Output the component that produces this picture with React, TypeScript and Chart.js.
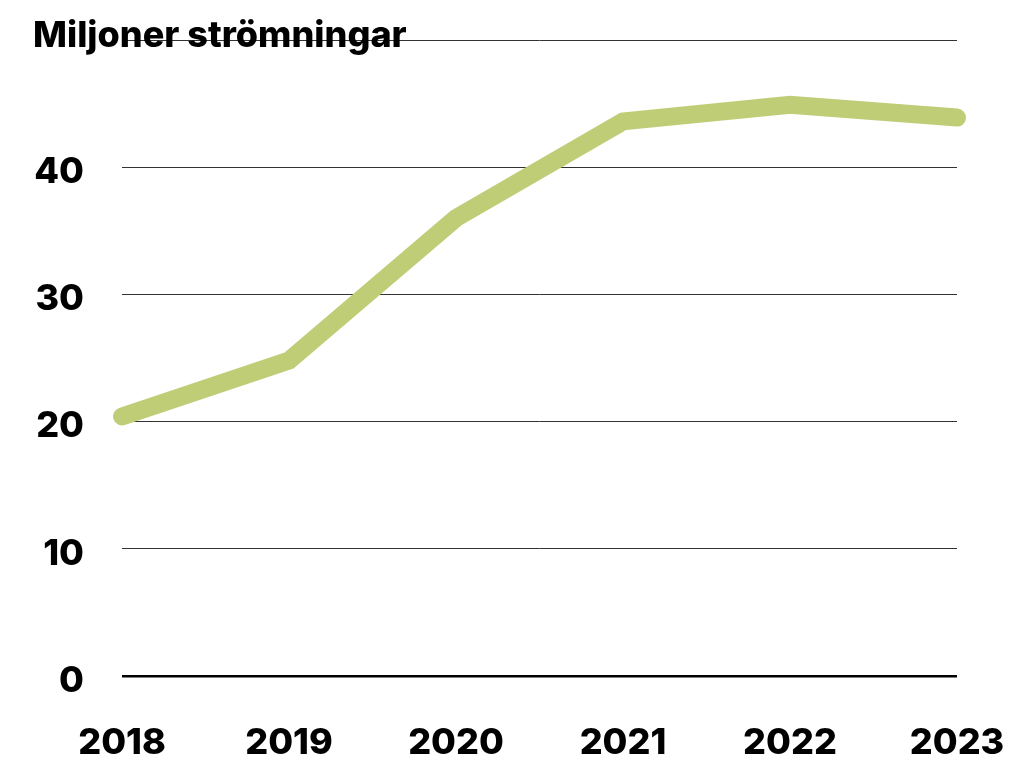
import React, { useEffect, useRef } from "react";
import { Chart, registerables } from "chart.js";

Chart.register(...registerables);

const years = ["2018", "2019", "2020", "2021", "2022", "2023"];
const streams = [20.4, 24.8, 36.0, 43.6, 44.9, 43.9];
const yTicks = [0, 10, 20, 30, 40, 50];
const titleText = "Miljoner strömningar";

const FONT = "Inter, 'Noto Sans', sans-serif";
const FS = 36;
const FW = "800";

export default function App() {
  const ref = useRef<HTMLCanvasElement | null>(null);

  useEffect(() => {
    document.body.style.margin = "0";
    const canvas = ref.current;
    if (!canvas) return;

    const titlePlugin = {
      id: "titleText",
      afterDraw(chart: any) {
        const ctx = chart.ctx;
        ctx.save();
        ctx.font = `${FW} ${FS}px ${FONT}`;
        ctx.fillStyle = "#000";
        ctx.textBaseline = "alphabetic";
        ctx.textAlign = "left";
        ctx.fillText(titleText, 33, 47);
        ctx.restore();
      },
    };

    const chart = new Chart(canvas, {
      type: "line",
      data: {
        labels: years,
        datasets: [
          {
            data: streams,
            borderColor: "#bfcd77",
            borderWidth: 18,
            borderCapStyle: "round",
            borderJoinStyle: "miter",
            pointRadius: 0,
            tension: 0,
            fill: false,
            clip: 30,
          },
        ],
      },
      options: {
        animation: false,
        responsive: false,
        layout: { padding: { left: 33, right: 52, top: 40, bottom: 0 } },
        plugins: { legend: { display: false }, title: { display: false }, tooltip: { enabled: false } },
        scales: {
          x: {
            grid: { display: false },
            border: { display: false },
            afterFit: (axis: any) => {
              axis.height = 82;
              axis.paddingLeft = 0;
              axis.paddingRight = 0;
            },
            ticks: {
              color: "#000",
              font: { family: FONT, size: FS, weight: FW, lineHeight: 1.0 },
              padding: 41,
              maxRotation: 0,
              autoSkip: false,
            },
          },
          y: {
            min: 0,
            max: 50,
            afterBuildTicks: (axis: any) => {
              axis.ticks = yTicks.map((v) => ({ value: v }));
            },
            afterFit: (axis: any) => {
              axis.width = 89;
              axis.paddingTop = 0;
              axis.paddingBottom = 0;
            },
            grid: {
              drawTicks: false,
              color: (c: any) => (c.tick && c.tick.value === 0 ? "#000" : "#333"),
              lineWidth: (c: any) => (c.tick && c.tick.value === 0 ? 2.5 : 1),
            },
            border: { display: false },
            ticks: {
              color: "#000",
              font: { family: FONT, size: FS, weight: FW, lineHeight: 1.0 },
              padding: 38,
              labelOffset: 5,
              callback: (v: any) => (v === 50 ? "" : String(v)),
            },
          },
        },
      },
      plugins: [titlePlugin],
    });

    return () => chart.destroy();
  }, []);

  return (
    <div style={{ position: "fixed", left: 0, top: 0, width: 1009, height: 758, background: "#fff" }}>
      <canvas ref={ref} width={1009} height={758} style={{ display: "block", width: 1009, height: 758 }} />
    </div>
  );
}
